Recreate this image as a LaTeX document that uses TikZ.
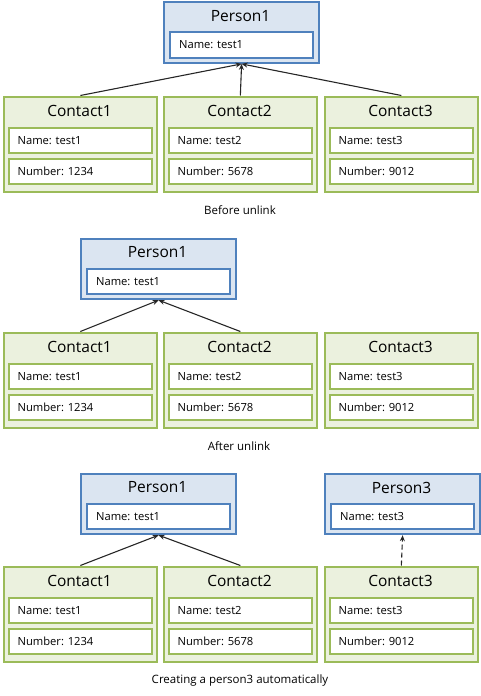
\documentclass[tikz,border=0pt]{standalone}
\usepackage{fontspec}
\setmainfont{Open Sans}
\usepackage{xcolor}
\usepackage{tikz}
\usetikzlibrary{arrows.meta, positioning}
\definecolor{personblue}{RGB}{79,129,189}
\definecolor{personfill}{RGB}{219,229,241}
\definecolor{contactgreen}{RGB}{155,187,89}
\definecolor{contactfill}{RGB}{235,241,222}

\begin{document}
\frenchspacing
\begin{tikzpicture}[x=1pt, y=-1pt,
  person/.style={rectangle, draw=personblue, fill=personfill, line width=2.2pt,
                 minimum width=155pt, minimum height=60.5pt, anchor=north west, inner sep=0pt},
  contact/.style={rectangle, draw=contactgreen, fill=contactfill, line width=2.2pt,
                  minimum width=152.5pt, minimum height=95.5pt, anchor=north west, inner sep=0pt},
  title/.style={font=\fontsize{15.5}{18}\selectfont, inner sep=0pt},
  pfield/.style={rectangle, draw=personblue, fill=white, line width=2.2pt,
                 minimum height=25.5pt, text width=125pt, inner xsep=9pt, inner ysep=0pt,
                 align=left, anchor=north west, font=\fontsize{11.2}{13}\selectfont},
  cfield/.style={pfield, draw=contactgreen},
  caption/.style={font=\fontsize{11.5}{14}\selectfont},
  link/.style={-{Stealth[length=6pt,width=5pt]}, line width=1.1pt, draw=black!85},
]
  \useasboundingbox (0,0) rectangle (480,696);

  % persons
  \foreach \p/\x/\y/\n/\nm in {p1a/163/1.2/1/test1, p1b/80/237.5/1/test1,
                               p1c/80/472.5/1/test1, p3c/324/472.5/3/test3} {
    \node[person] (\p) at (\x,\y) {};
    \node[title] (\p-t) at (\x+77.5,\y+15) {Person\n};
    \node[pfield] (\p-n) at (\x+6,\y+30) {Name: \nm};
  }

  % contacts, one row per state
  \foreach \row/\y in {a/95.5, b/331.5, c/565.5} {
    \foreach \i/\x/\nm/\num in {1/3/test1/1234, 2/163/test2/5678, 3/324/test3/9012} {
      \node[contact] (\row\i) at (\x,\y) {};
      \node[title] (\row\i-t) at (\x+76.5,\y+15) {Contact\i};
      \node[cfield] (\row\i-n) at (\x+4.5,\y+31) {Name: \nm};
      \node[cfield] (\row\i-m) at (\x+4.5,\y+62) {Number: \num};
    }
  }

  \foreach \i in {1,2,3}
    \draw[link] (a\i.north) -- (p1a.south);
  \foreach \i in {1,2}
    \draw[link] (b\i.north) -- (p1b.south);
  \foreach \i in {1,2}
    \draw[link] (c\i.north) -- (p1c.south);
  \draw[link, dash pattern=on 5pt off 3pt] (c3.north) -- (p3c.south);

  \node[caption] (cap1) at (240,210) {Before unlink};
  \node[caption] (cap2) at (239,446) {After unlink};
  \node[caption] (cap3) at (240,681) {Creating a person3 automatically};
\end{tikzpicture}
\end{document}
